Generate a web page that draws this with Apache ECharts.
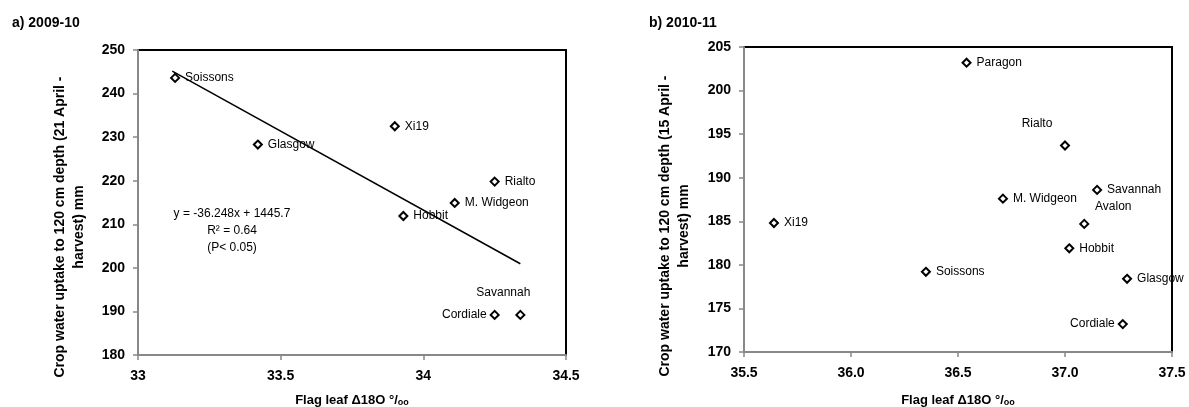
<!DOCTYPE html>
<html>
<head>
<meta charset="utf-8">
<script src="https://cdn.jsdelivr.net/npm/echarts@6/dist/echarts.min.js"></script>
<style>html,body{margin:0;padding:0;background:#fff;}#c{width:1189px;height:407px;}</style>
</head>
<body>
<div id="c"></div>
<script>
// ---- data ----
const leftNames = ['Soissons','Glasgow','Xi19','Rialto','M. Widgeon','Hobbit','Cordiale','Savannah'];
const leftX = [33.13, 33.42, 33.90, 34.25, 34.11, 33.93, 34.25, 34.34];
const leftY = [243.6, 228.3, 232.5, 219.8, 214.9, 211.9, 189.2, 189.2];

const rightNames = ['Paragon','Rialto','Savannah','M. Widgeon','Avalon','Xi19','Hobbit','Soissons','Glasgow','Cordiale'];
const rightX = [36.54, 37.00, 37.15, 36.71, 37.09, 35.64, 37.02, 36.35, 37.29, 37.27];
const rightY = [203.2, 193.7, 188.6, 187.6, 184.7, 184.8, 181.9, 179.2, 178.4, 173.2];

const trendSlope = -36.248;
const trendIntercept = 1445.7;
const trendX = [33.12, 34.34];

const leftXTicks = [33, 33.5, 34, 34.5];
const leftYTicks = [180, 190, 200, 210, 220, 230, 240, 250];
const rightXTicks = [35.5, 36.0, 36.5, 37.0, 37.5];
const rightYTicks = [170, 175, 180, 185, 190, 195, 200, 205];

// ---- styling ----
const FONT = '"Liberation Sans", Arial, sans-serif';
const defaultLabel = {position: 'right', distance: 5};
const leftLabelStyle = {
  'Cordiale': {position: 'left', distance: 3},
  'Savannah': {position: 'top', distance: 5, offset: [-17, -6]}
};
const rightLabelStyle = {
  'Rialto': {position: 'top', distance: 5, offset: [-28, -6]},
  'Avalon': {position: 'top', distance: 5, offset: [29, -1]},
  'Cordiale': {position: 'left', distance: 3}
};

function buildPoints(names, xs, ys, styles) {
  return names.map((n, i) => ({
    name: n,
    value: [xs[i], ys[i]],
    label: Object.assign({}, defaultLabel, styles[n] || {})
  }));
}

const axisLineGray = {show: true, lineStyle: {color: '#888', width: 2}};
const tickStyle = {show: true, inside: false, length: 5, lineStyle: {color: '#888', width: 1.5}};
const tickLabel = {color: '#000', fontWeight: 'bold', fontSize: 14, fontFamily: FONT, margin: 14};

function xAxis(idx, ticks, fmt) {
  return {
    type: 'value', gridIndex: idx,
    min: ticks[0], max: ticks[ticks.length - 1], interval: ticks[1] - ticks[0],
    axisLine: axisLineGray, axisTick: tickStyle,
    axisLabel: Object.assign({}, tickLabel, {formatter: fmt}),
    splitLine: {show: false}
  };
}
function yAxis(idx, ticks) {
  return {
    type: 'value', gridIndex: idx,
    min: ticks[0], max: ticks[ticks.length - 1], interval: ticks[1] - ticks[0],
    axisLine: axisLineGray, axisTick: tickStyle,
    axisLabel: Object.assign({}, tickLabel, {margin: 13}),
    splitLine: {show: false}
  };
}

const scatterCommon = {
  type: 'scatter',
  symbol: 'diamond',
  symbolSize: 8,
  itemStyle: {color: '#fff', borderColor: '#000', borderWidth: 2, opacity: 1},
  label: {show: true, formatter: '{b}', color: '#000', fontSize: 12, fontFamily: FONT},
  z: 5
};

const chart = echarts.init(document.getElementById('c'), null, {renderer: 'canvas'});

function xTitle(cx) {
  return {
    type: 'text', x: cx, y: 400,
    style: {
      text: 'Flag leaf Δ18O °/{sub|oo}',
      font: 'bold 13px ' + FONT, fill: '#000',
      align: 'center', verticalAlign: 'middle',
      rich: {sub: {font: 'bold 9px ' + FONT, fill: '#000', padding: [6, 0, 0, 0]}}
    }
  };
}
function yTitle(cx, cy, text) {
  return {
    type: 'text', x: cx, y: cy, rotation: Math.PI / 2,
    style: {
      text: text, font: 'bold 14px ' + FONT, fill: '#000',
      align: 'center', verticalAlign: 'middle', lineHeight: 19
    }
  };
}

chart.setOption({
  animation: false,
  backgroundColor: '#fff',
  grid: [
    {left: 138, top: 50, width: 428, height: 305, show: true, borderColor: '#000', borderWidth: 2, backgroundColor: 'transparent'},
    {left: 744, top: 47, width: 428, height: 305, show: true, borderColor: '#000', borderWidth: 2, backgroundColor: 'transparent'}
  ],
  xAxis: [
    xAxis(0, leftXTicks, v => String(v)),
    xAxis(1, rightXTicks, v => v.toFixed(1))
  ],
  yAxis: [
    yAxis(0, leftYTicks),
    yAxis(1, rightYTicks)
  ],
  series: [
    Object.assign({}, scatterCommon, {xAxisIndex: 0, yAxisIndex: 0, data: buildPoints(leftNames, leftX, leftY, leftLabelStyle)}),
    {
      type: 'line', xAxisIndex: 0, yAxisIndex: 0, symbol: 'none',
      lineStyle: {color: '#000', width: 1.5}, z: 4,
      data: trendX.map(x => [x, trendSlope * x + trendIntercept])
    },
    Object.assign({}, scatterCommon, {xAxisIndex: 1, yAxisIndex: 1, data: buildPoints(rightNames, rightX, rightY, rightLabelStyle)})
  ],
  graphic: [
    {type: 'text', x: 12, y: 23, style: {text: 'a) 2009-10', font: 'bold 14px ' + FONT, fill: '#000', align: 'left', verticalAlign: 'middle'}},
    {type: 'text', x: 649, y: 23, style: {text: 'b) 2010-11', font: 'bold 14px ' + FONT, fill: '#000', align: 'left', verticalAlign: 'middle'}},
    yTitle(69.5, 227, 'Crop water uptake to 120 cm depth (21 April -\nharvest) mm'),
    yTitle(675, 226, 'Crop water uptake to 120 cm depth (15 April -\nharvest) mm'),
    xTitle(352),
    xTitle(958),
    {type: 'text', x: 232, y: 231, style: {
      text: 'y = -36.248x + 1445.7\nR² = 0.64\n(P< 0.05)',
      font: '12px ' + FONT, fill: '#000', align: 'center', verticalAlign: 'middle', lineHeight: 17
    }}
  ]
});
</script>
</body>
</html>
